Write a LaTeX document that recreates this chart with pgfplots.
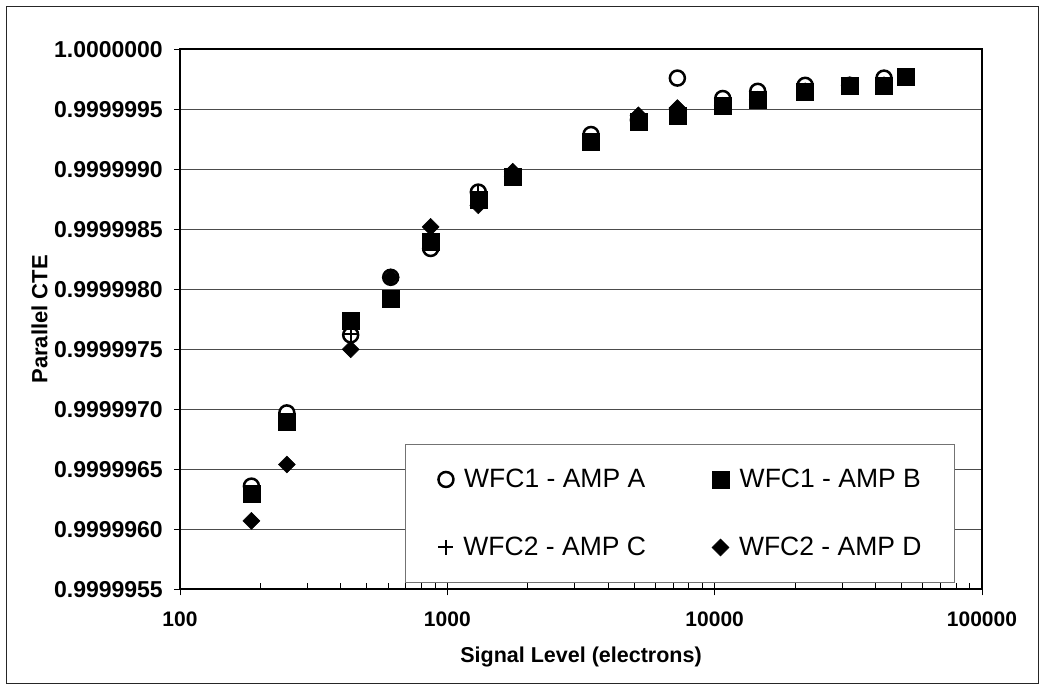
\documentclass[border=0pt]{standalone}
\usepackage{pgfplots}
\usepackage{pgfplotstable}
\pgfplotsset{compat=1.18}
\usepackage{fontspec}
\setmainfont{Liberation Sans}

\pgfplotstableread{
x y
185 0.99999636
251 0.99999697
435 0.99999762
614 0.99999810
866 0.99999834
1306 0.99999881
1757 0.99999894
3447 0.99999929
5184 0.99999941
7253 0.99999976
10720 0.99999959
14490 0.99999965
21800 0.99999970
32000 0.99999970
43000 0.99999976
52000 0.99999977
}\dataA
\pgfplotstableread{
x y
185 0.99999630
251 0.99999690
435 0.99999774
614 0.99999792
866 0.99999840
1306 0.99999875
1757 0.99999894
3447 0.99999923
5184 0.99999940
7253 0.99999945
10720 0.99999953
14490 0.99999958
21800 0.99999965
32000 0.99999970
43000 0.99999970
52000 0.99999977
}\dataB
\pgfplotstableread{
x y
185 0.99999630
251 0.99999690
435 0.99999763
614 0.99999810
866 0.99999840
1306 0.99999881
1757 0.99999894
3447 0.99999923
5184 0.99999940
7253 0.99999945
10720 0.99999953
14490 0.99999958
21800 0.99999965
32000 0.99999970
43000 0.99999970
52000 0.99999977
}\dataC
\pgfplotstableread{
x y
185 0.99999607
251 0.99999654
435 0.99999750
614 0.99999810
866 0.99999852
1306 0.99999870
1757 0.99999898
3447 0.99999923
5184 0.99999945
7253 0.99999951
10720 0.99999953
14490 0.99999958
21800 0.99999965
32000 0.99999970
43000 0.99999970
52000 0.99999977
}\dataD

\begin{document}
\begin{tikzpicture}
\path[use as bounding box] (0,0) rectangle (1045pt,690pt);
\draw[line width=1.3pt, black!85] (6.5pt,6.5pt) rectangle (1038.5pt,683.5pt);
\begin{axis}[
  at={(180pt,100.7pt)}, anchor=south west,
  scale only axis, width=802pt, height=540pt,
  xmode=log, xmin=100, xmax=100000,
  y coord trafo/.code={\edef\pgfmathresult{\fpeval{(#1-1)*10000000}}},
  ymin=0.9999955, ymax=1.0000000,
  ytick={0.9999955,0.9999960,0.9999965,0.9999970,0.9999975,0.9999980,0.9999985,0.9999990,0.9999995,1.0000000},
  yticklabels={0.9999955,0.9999960,0.9999965,0.9999970,0.9999975,0.9999980,0.9999985,0.9999990,0.9999995,1.0000000},
  xtick={100,1000,10000,100000},
  xticklabels={100,1000,10000,100000},
  minor y tick num=0,
  tick pos=left,
  tick align=outside,
  major tick length=6pt,
  minor tick length=6pt,
  minor tick style={yshift=6pt},
  ymajorgrids,
  major grid style={line width=1pt, black!70},
  axis line style={line width=2.2pt},
  tick style={line width=1pt, black},
  xticklabel style={font=\bfseries\fontsize{21}{21}\selectfont, inner sep=0pt, yshift=-16pt},
  yticklabel style={font=\bfseries\fontsize{23}{23}\selectfont, inner sep=0pt, xshift=-11pt},
  xlabel style={font=\bfseries\fontsize{21.5}{21.5}\selectfont, at={(axis description cs:0.5,-0.1254)}, anchor=center},
  ylabel style={font=\bfseries\fontsize{22}{22}\selectfont, at={(axis description cs:-0.1752,0.5)}, anchor=center, rotate=0},
  xlabel={Signal Level (electrons)},
  ylabel={Parallel CTE},
  legend columns=2,
  legend style={at={(rel axis cs:0.2805,0.0117)}, anchor=south west,
    draw=black!55, line width=1pt, fill=white,
    font=\fontsize{26.5}{26.5}\selectfont,
    inner xsep=33pt, inner ysep=25pt, row sep=48pt,
    nodes={inner sep=0pt},
    /tikz/every odd column/.append style={column sep=10pt},
    /tikz/every even column/.append style={column sep=66pt}},
]
\addplot[only marks, mark=*, mark size=7.5pt, mark options={fill=white, draw=black, line width=2.5pt}] table {\dataA};
\addplot[only marks, mark=square*, mark size=8.5pt, mark options={fill=black, draw=black, line width=0.5pt}] table {\dataB};
\addplot[only marks, mark=+, mark size=7.5pt, mark options={draw=black, line width=2pt}] table {\dataC};
\addplot[only marks, mark=square*, mark size=6pt, mark options={rotate=45, fill=black, draw=black, line width=0.5pt}] table {\dataD};
\legend{WFC1 - AMP A, WFC1 - AMP B, WFC2 - AMP C, WFC2 - AMP D}
\end{axis}
\end{tikzpicture}
\end{document}
